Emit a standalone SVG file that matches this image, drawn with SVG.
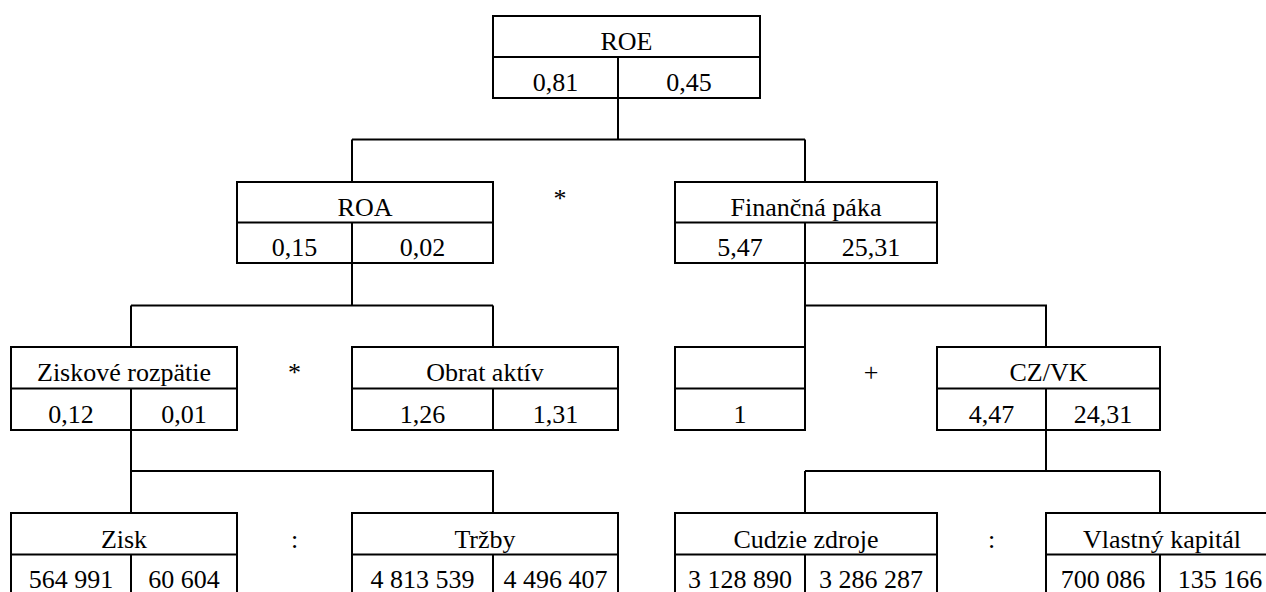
<svg xmlns="http://www.w3.org/2000/svg" width="1266" height="592" viewBox="0 0 1266 592">
<style>
.b{fill:#fff;stroke:#000;stroke-width:2}
.l{stroke:#000;stroke-width:2;fill:none}
text{font-family:'Liberation Serif','Times New Roman',serif;font-size:26px;fill:#000;text-anchor:middle}
</style>
<rect width="1266" height="592" fill="#fff"/>
<g id="connectors" class="l">
<path d="M618 98V139.5M352 139.5H805M352 139.5V182M805 139.5V182"/>
<path d="M352 263V305.5M131 305.5H493M131 305.5V347M493 305.5V347"/>
<path d="M805 263V305.5H1046V347M805 305.5V347"/>
<path d="M131 430V471H493V513M131 471V513"/>
<path d="M1046 430V471M805 471H1160M805 471V513M1160 471V513"/>
</g>
<g id="roe">
<rect class="b" x="493" y="16" width="267" height="82"/>
<path class="l" d="M493 57H760M618 57V98"/>
<text x="626.5" y="50">ROE</text>
<text x="555.5" y="91">0,81</text>
<text x="689" y="91">0,45</text>
</g>
<g id="roa">
<rect class="b" x="237" y="182" width="256" height="81"/>
<path class="l" d="M237 222.5H493M352 222.5V263"/>
<text x="365" y="216">ROA</text>
<text x="294.5" y="256">0,15</text>
<text x="422.5" y="256">0,02</text>
</g>
<text id="op1" x="560" y="207">*</text>
<g id="fin">
<rect class="b" x="675" y="182" width="262" height="81"/>
<path class="l" d="M675 222.5H937M805 222.5V263"/>
<text x="806" y="216">Finančná páka</text>
<text x="740" y="256">5,47</text>
<text x="871" y="256">25,31</text>
</g>
<g id="zr">
<rect class="b" x="11" y="347" width="226" height="83"/>
<path class="l" d="M11 388.5H237M131 388.5V430"/>
<text x="124" y="381">Ziskové rozpätie</text>
<text x="71" y="423">0,12</text>
<text x="184" y="423">0,01</text>
</g>
<text id="op2" x="294.5" y="381">*</text>
<g id="oa">
<rect class="b" x="352" y="347" width="266" height="83"/>
<path class="l" d="M352 388.5H618M493 388.5V430"/>
<text x="485" y="381">Obrat aktív</text>
<text x="422.5" y="423">1,26</text>
<text x="555.5" y="423">1,31</text>
</g>
<g id="one">
<rect class="b" x="675" y="347" width="130" height="83"/>
<path class="l" d="M675 388.5H805"/>
<text x="740" y="423">1</text>
</g>
<text id="op3" x="871" y="381">+</text>
<g id="czvk">
<rect class="b" x="937" y="347" width="223" height="83"/>
<path class="l" d="M937 388.5H1160M1046 388.5V430"/>
<text x="1048.5" y="381">CZ/VK</text>
<text x="991.5" y="423">4,47</text>
<text x="1103" y="423">24,31</text>
</g>
<g id="zisk">
<rect class="b" x="11" y="513" width="226" height="90"/>
<path class="l" d="M11 554.5H237M131 554.5V603"/>
<text x="124" y="547.5">Zisk</text>
<text x="71" y="588">564 991</text>
<text x="184" y="588">60 604</text>
</g>
<text id="op4" x="294.5" y="547.5">:</text>
<g id="trzby">
<rect class="b" x="352" y="513" width="266" height="90"/>
<path class="l" d="M352 554.5H618M493 554.5V603"/>
<text x="485" y="547.5">Tržby</text>
<text x="422.5" y="588">4 813 539</text>
<text x="555.5" y="588">4 496 407</text>
</g>
<g id="cz">
<rect class="b" x="675" y="513" width="262" height="90"/>
<path class="l" d="M675 554.5H937M805 554.5V603"/>
<text x="806" y="547.5">Cudzie zdroje</text>
<text x="740" y="588">3 128 890</text>
<text x="871" y="588">3 286 287</text>
</g>
<text id="op5" x="991.5" y="547.5">:</text>
<g id="vk">
<rect class="b" x="1046" y="513" width="232" height="90"/>
<path class="l" d="M1046 554.5H1278M1160 554.5V603"/>
<text x="1162" y="547.5">Vlastný kapitál</text>
<text x="1103" y="588">700 086</text>
<text x="1220" y="588">135 166</text>
</g>
</svg>
